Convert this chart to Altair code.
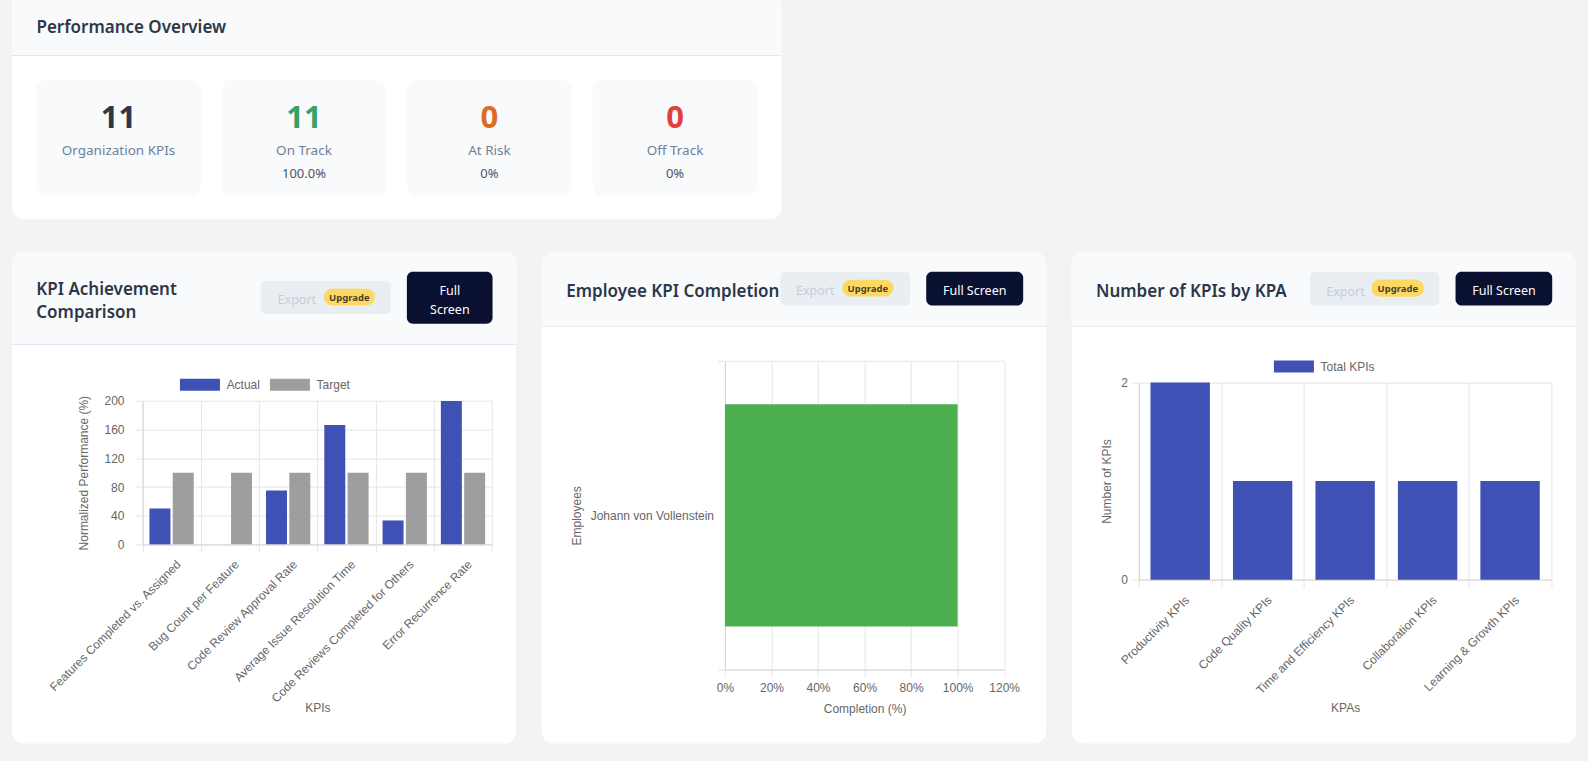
import altair as alt
import pandas as pd

# ---------------- data ----------------
stat_labels = ["Organization KPIs", "On Track", "At Risk", "Off Track"]
stat_values = [11, 11, 0, 0]
stat_subs = ["", "100.0%", "0%", "0%"]

kpi_names = [
    "Features Completed vs. Assigned",
    "Bug Count per Feature",
    "Code Review Approval Rate",
    "Average Issue Resolution Time",
    "Code Reviews Completed for Others",
    "Error Recurrence Rate",
]
kpi_actual = [50, 0, 75, 166.67, 33.33, 200]
kpi_target = [100, 100, 100, 100, 100, 100]
kpi_series = ["Actual", "Target"]

employees = ["Johann von Vollenstein"]
employee_completion = [100]

kpa_names = [
    "Productivity KPIs",
    "Code Quality KPIs",
    "Time and Efficiency KPIs",
    "Collaboration KPIs",
    "Learning & Growth KPIs",
]
kpa_counts = [2, 1, 1, 1, 1]
kpa_series = ["Total KPIs"]

# ---------------- style ----------------
UI = "Noto Sans"
CH = "Liberation Sans"
TITLE_C = "#2d3748"
GRID = "#e6e6e6"
DOMAIN = "#d6d6d6"
LBL = "#666666"
CARD_W = 504.5
CARD_H = 492
VIEW = alt.ViewBackground(fill="#ffffff", stroke=None, cornerRadius=12)
BOX_PATH = "M-1,-0.3H1V0.3H-1Z"
DY = 1.5  # baseline correction for UI text

ONE = pd.DataFrame({"k": [0]})


def box(x1, x2, y1, y2, color, **kw):
    return alt.Chart(ONE).mark_rect(color=color, **kw).encode(
        x=alt.value(x1), x2=alt.value(x2), y=alt.value(y1), y2=alt.value(y2)
    )


def txt(s, x, y, size, color, weight="normal", align="left", font=UI):
    return alt.Chart(ONE).mark_text(
        text=s, align=align, baseline="middle", fontSize=size,
        fontWeight=weight, color=color, font=font,
    ).encode(x=alt.value(x), y=alt.value(y + DY))


def header(W, hh, rounded=True):
    kw = dict(cornerRadiusTopLeft=12, cornerRadiusTopRight=12) if rounded else {}
    return [box(0, W, 0, hh, "#f8fafc", **kw), box(0, W, hh, hh + 1, "#e2e8f0")]


def export_btn(ex, ey, ux, uy, tx, ty, ucx, ucy):
    return [
        box(ex[0], ex[1], ey[0], ey[1], "#e9eef3", cornerRadius=5),
        txt("Export", tx, ty, 12.5, "#c5ccd6"),
        box(ux[0], ux[1], uy[0], uy[1], "#fcd964", cornerRadius=8.5),
        txt("Upgrade", ucx, ucy - 0.5, 9.5, "#4a4226", weight="bold", align="center"),
    ]


def axis_common(**kw):
    base = dict(
        gridColor=GRID, tickColor=GRID, domainColor=DOMAIN,
        labelFont=CH, labelFontSize=12, labelColor=LBL,
        titleFont=CH, titleFontSize=12, titleColor=LBL, titleFontWeight="normal",
        titleAlign="center", titleBaseline="middle", labelLimit=320,
    )
    base.update(kw)
    return alt.Axis(**base)


def vgrid(df, xfield, xsort, xscale, yfield, ysort, yscale, **kw):
    # grid-only axis on top so the vertical grid lines span exactly the plot area
    return alt.Chart(df).mark_point(opacity=0).encode(
        x=alt.X(xfield, sort=xsort, scale=xscale,
                axis=alt.Axis(orient="top", grid=True, gridColor=GRID, labels=False,
                              ticks=False, domain=False, title=None, **kw)),
        y=alt.Y(yfield, sort=ysort, scale=yscale, axis=None),
    )


def legend(x, y, **kw):
    return alt.Legend(
        orient="none", legendX=x, legendY=y, direction="horizontal", title=None,
        symbolType=BOX_PATH, symbolSize=1600, symbolStrokeWidth=0, symbolOpacity=1,
        labelFont=CH, labelFontSize=12, labelColor=LBL, labelOffset=6.7, padding=0, **kw,
    )


# ---------------- top card: performance overview ----------------
TOP_W, TOP_H = 770, 219.3
df0 = pd.DataFrame({"label": stat_labels, "value": stat_values, "sub": stat_subs})
X0 = alt.X(
    "label:N", sort=stat_labels,
    scale=alt.Scale(range=[24, 745.7], paddingInner=0.111, paddingOuter=0),
    axis=None,
)
num_colors = ["#2d3748", "#38a169", "#dd6b20", "#e53e3e"]

top_layers = header(TOP_W, 55, rounded=False) + [
    txt("Performance Overview", 24.5, 26.3, 17, TITLE_C, weight=600),
    alt.Chart(df0).mark_rect(cornerRadius=10, color="#f8fafc").encode(
        x=X0, y=alt.value(80), y2=alt.value(196)
    ),
    alt.Chart(df0).mark_text(font=UI, fontSize=31, fontWeight="bold", baseline="middle").encode(
        x=X0, y=alt.value(118.7), text="value:Q",
        color=alt.Color("label:N", sort=stat_labels,
                        scale=alt.Scale(domain=stat_labels, range=num_colors), legend=None),
    ),
    alt.Chart(df0).mark_text(font=UI, fontSize=13.5, color="#718096", baseline="middle").encode(
        x=X0, y=alt.value(150.5), text="label:N"
    ),
    alt.Chart(df0).mark_text(font=UI, fontSize=13, color="#4a5568", baseline="middle").encode(
        x=X0, y=alt.value(173.5), text="sub:N"
    ),
]
top = alt.layer(*top_layers).properties(width=TOP_W, height=TOP_H, view=VIEW)

# ---------------- card 1: KPI achievement comparison ----------------
p1 = dict(l=130.5, r=480.3, t=149.3, b=292.7)
df1 = pd.DataFrame({
    "kpi": kpi_names * 2,
    "series": ["Actual"] * len(kpi_names) + ["Target"] * len(kpi_names),
    "value": kpi_actual + kpi_target,
})
sx1 = alt.Scale(range=[p1["l"], p1["r"]], paddingInner=0, paddingOuter=0)
sy1 = alt.Scale(domain=[0, 200], range=[p1["b"], p1["t"]], nice=False)
bars1 = alt.Chart(df1).mark_bar().encode(
    x=alt.X(
        "kpi:N", sort=kpi_names, scale=sx1,
        axis=axis_common(
            orient="bottom", offset=-(CARD_H - p1["b"]), grid=False, tickBand="extent",
            labelAngle=-45, labelAlign="right", labelBaseline="middle",
            labelOffset=6.5, labelPadding=9.5, tickSize=8,
            title="KPIs", titleX=(p1["l"] + p1["r"]) / 2, titleY=163.3,
        ),
    ),
    xOffset=alt.XOffset("series:N", sort=kpi_series,
                        scale=alt.Scale(paddingInner=0.1, paddingOuter=0.3)),
    y=alt.Y(
        "value:Q", scale=sy1,
        axis=axis_common(
            orient="left", offset=-p1["l"], values=[0, 40, 80, 120, 160, 200],
            tickSize=8, labelPadding=10.5, grid=True,
            title="Normalized Performance (%)", titleX=-59.2,
            titleY=(p1["t"] + p1["b"]) / 2, titleAngle=270,
        ),
    ),
    color=alt.Color(
        "series:N", sort=kpi_series,
        scale=alt.Scale(domain=kpi_series, range=["#3f51b5", "#9e9e9e"]),
        legend=legend(168, 113, columnPadding=9),
    ),
)
card1 = alt.layer(
    *header(CARD_W, 92.3),
    txt("KPI Achievement", 24.3, 36.5, 17, TITLE_C, weight=600),
    txt("Comparison", 24.3, 59.3, 17, TITLE_C, weight=600),
    *export_btn((249, 379), (29, 62.3), (312, 363), (37, 53.7), 265.7, 46.5, 337.5, 45.5),
    box(395, 480.7, 20, 72, "#0a1030", cornerRadius=6),
    txt("Full", 438, 38, 12.5, "#ffffff", align="center"),
    txt("Screen", 438, 56.3, 12.5, "#ffffff", align="center"),
    vgrid(df1, "kpi:N", kpi_names, sx1, "value:Q", None, sy1, tickBand="extent"),
    bars1,
).resolve_axis(x="independent", y="independent").properties(
    width=CARD_W, height=CARD_H, view=VIEW)

# ---------------- card 2: employee KPI completion ----------------
p2 = dict(l=183.2, r=462.5, t=109.3, b=418)
df2 = pd.DataFrame({"employee": employees, "completion": employee_completion})
sx2 = alt.Scale(domain=[0, 120], range=[p2["l"], p2["r"]], nice=False)
sy2 = alt.Scale(range=[p2["t"], p2["b"]], paddingInner=0, paddingOuter=0)
pct_ticks = [0, 20, 40, 60, 80, 100, 120]
bars2 = alt.Chart(df2).mark_bar(color="#4caf50", height={"band": 0.72}).encode(
    y=alt.Y(
        "employee:N", sort=employees, scale=sy2,
        axis=axis_common(
            orient="left", offset=-p2["l"], tickBand="extent", grid=True,
            tickSize=7.5, labelPadding=4, title="Employees", titleX=-149,
            titleY=(p2["t"] + p2["b"]) / 2, titleAngle=270,
        ),
    ),
    x=alt.X(
        "completion:Q", scale=sx2,
        axis=axis_common(
            orient="bottom", offset=-(CARD_H - p2["b"]), grid=False,
            values=pct_ticks, labelExpr="datum.value + '%'", labelFlush=False,
            labelOverlap=False, tickSize=8, labelPadding=5, title="Completion (%)",
            titleX=(p2["l"] + p2["r"]) / 2, titleY=39,
        ),
    ),
)
card2 = alt.layer(
    *header(CARD_W, 74),
    txt("Employee KPI Completion", 24.5, 38.5, 17, TITLE_C, weight=600),
    *export_btn((238.5, 368.5), (20, 53.7), (300.5, 351.8), (28, 44.7), 254.2, 37.5, 326.1, 36.4),
    box(384.5, 481.5, 20, 53.7, "#0a1030", cornerRadius=6),
    txt("Full Screen", 433, 37.5, 12.5, "#ffffff", align="center"),
    vgrid(df2, "completion:Q", None, sx2, "employee:N", employees, sy2, values=pct_ticks),
    bars2,
).resolve_axis(x="independent", y="independent").properties(
    width=CARD_W, height=CARD_H, view=VIEW)

# ---------------- card 3: number of KPIs by KPA ----------------
p3 = dict(l=67.3, r=479.8, t=130.7, b=328)
df3 = pd.DataFrame({"kpa": kpa_names, "count": kpa_counts, "series": kpa_series * len(kpa_names)})
sx3 = alt.Scale(range=[p3["l"], p3["r"]], paddingInner=0, paddingOuter=0)
sy3 = alt.Scale(domain=[0, 2], range=[p3["b"], p3["t"]], nice=False)
bars3 = alt.Chart(df3).mark_bar(width={"band": 0.72}).encode(
    x=alt.X(
        "kpa:N", sort=kpa_names, scale=sx3,
        axis=axis_common(
            orient="bottom", offset=-(CARD_H - p3["b"]), grid=False, tickBand="extent",
            labelAngle=-45, labelAlign="right", labelBaseline="middle",
            labelOffset=6.5, labelPadding=10, tickSize=8,
            title="KPAs", titleX=(p3["l"] + p3["r"]) / 2, titleY=128.3,
        ),
    ),
    y=alt.Y(
        "count:Q", scale=sy3,
        axis=axis_common(
            orient="left", offset=-p3["l"], values=[0, 1, 2], format="d", tickSize=8,
            labelPadding=3.5, grid=True, title="Number of KPIs", titleX=-32.6,
            titleY=(p3["t"] + p3["b"]) / 2, titleAngle=270,
        ),
    ),
    color=alt.Color(
        "series:N",
        scale=alt.Scale(domain=kpa_series, range=["#3f51b5"]),
        legend=legend(202.3, 94.8),
    ),
)
card3 = alt.layer(
    *header(CARD_W, 74),
    txt("Number of KPIs by KPA", 24.3, 39, 17, TITLE_C, weight=600),
    *export_btn((238.3, 367.7), (20, 53.7), (300, 352.3), (27.7, 45), 254.7, 38.3, 326.2, 36.4),
    box(384, 480.7, 20, 53.7, "#0a1030", cornerRadius=6),
    txt("Full Screen", 432.4, 38, 12.5, "#ffffff", align="center"),
    vgrid(df3, "kpa:N", kpa_names, sx3, "count:Q", None, sy3, tickBand="extent"),
    bars3,
).resolve_axis(x="independent", y="independent").properties(
    width=CARD_W, height=CARD_H, view=VIEW)

right_pair = alt.hconcat(card2, card3, spacing=20).resolve_scale(color="independent")
bottom = alt.hconcat(card1, right_pair, spacing=25).resolve_scale(color="independent")

chart = alt.vconcat(top, bottom, spacing=25.7).resolve_scale(color="independent").properties(
    padding={"left": 7, "top": 0, "right": 11.5, "bottom": 17},
    background="#f3f3f3",
).configure_view(stroke=None)

chart.save("out.html", embed_options={"renderer": "svg", "actions": False})
